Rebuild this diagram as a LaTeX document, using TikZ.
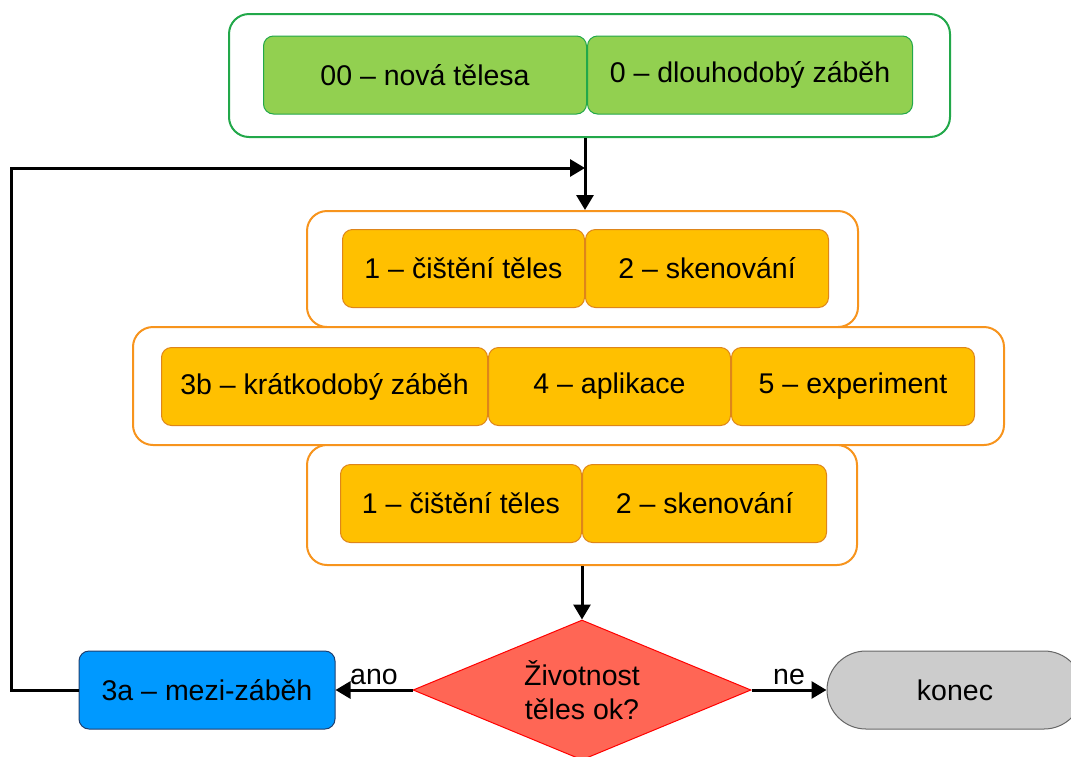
\documentclass[tikz,border=0pt]{standalone}
\usepackage{fontspec}
\setmainfont{Liberation Sans}
\usetikzlibrary{shapes.geometric,arrows.meta,positioning}

\definecolor{leafgreen}{HTML}{92D050}
\definecolor{leafedge}{HTML}{22A84A}
\definecolor{amber}{HTML}{FFC000}
\definecolor{amberedge}{HTML}{F7941D}
\definecolor{coral}{HTML}{FF6655}
\definecolor{skyblue}{HTML}{0099FF}
\definecolor{skyedge}{HTML}{1F3F6F}
\definecolor{stopgray}{HTML}{CCCCCC}
\definecolor{stopedge}{HTML}{666666}

\begin{document}
\begin{tikzpicture}[
    x=1pt, y=-1pt,
    font=\fontsize{28.5}{34}\selectfont,
    frame/.style = {draw, line width=2pt, rounded corners=20pt, fill=white, inner sep=0pt},
    stepbox/.style = {draw, line width=1pt, rounded corners=10pt, minimum height=78pt, inner sep=0pt, anchor=west, align=center},
    greenbox/.style = {stepbox, fill=leafgreen, draw=leafedge},
    amberbox/.style = {stepbox, fill=amber, draw=amberedge!90!black},
    line/.style = {draw, line width=3pt, -{Triangle[length=15pt,width=17pt]}}
]
    \useasboundingbox (0,0) rectangle (1071,756);

    % Frames
    \node [frame, draw=leafedge, minimum width=721pt, minimum height=123pt] (newframe) at (589.5,75.5) {};
    \node [frame, draw=amberedge, minimum width=551pt, minimum height=116pt] (prepframe) at (582.5,269) {};
    \node [frame, draw=amberedge, minimum width=871pt, minimum height=118pt] (useframe) at (568.5,386) {};
    \node [frame, draw=amberedge, minimum width=550pt, minimum height=120pt] (postframe) at (582,505) {};

    % Nodes
    \node [greenbox, minimum width=323pt] (new) at (263,75) {00 -- nová tělesa};
    \node [greenbox, minimum width=325pt, right=0pt of new] (runin) {0 -- dlouhodobý záběh};

    \node [amberbox, minimum width=242pt] (clean) at (342,268.5) {1 -- čištění těles};
    \node [amberbox, minimum width=243pt, right=0pt of clean] (scan) {2 -- skenování};

    \node [amberbox, minimum width=326pt] (shortrun) at (161,386.5) {3b -- krátkodobý záběh};
    \node [amberbox, minimum width=242pt, right=0pt of shortrun] (apply) {4 -- aplikace};
    \node [amberbox, minimum width=243pt, right=0pt of apply] (test) {5 -- experiment};

    \node [amberbox, minimum width=241pt] (recclean) at (340,503.5) {1 -- čištění těles};
    \node [amberbox, minimum width=244pt, right=0pt of recclean] (rescan) {2 -- skenování};

    \node [diamond, shape aspect=2.41, draw=red, line width=1pt, fill=coral, minimum width=338pt, minimum height=140pt, inner sep=0pt, align=center] (check) at (582,690) {Životnost\\těles ok?};
    \node [draw=skyedge, line width=1pt, fill=skyblue, rounded corners=10pt, minimum width=256pt, minimum height=78pt] (midrun) at (207,690) {3a -- mezi-záběh};
    \node [draw=stopedge, line width=1pt, fill=stopgray, rounded corners=39pt, minimum width=256pt, minimum height=78pt] (finish) at (955,690) {konec};

    \coordinate (merge) at (585,168);

    % Edges
    \path [line] (newframe.south -| merge) -- (merge |- prepframe.north);
    \path [line] (midrun.west) -- ++(-67,0) |- (merge);
    \path [line] (postframe.south) -- (check.north);
    \path [line] (check.west) -- node[above] {ano} (midrun.east);
    \path [line] (check.east) -- node[above] {ne} (finish.west);

\end{tikzpicture}
\end{document}
